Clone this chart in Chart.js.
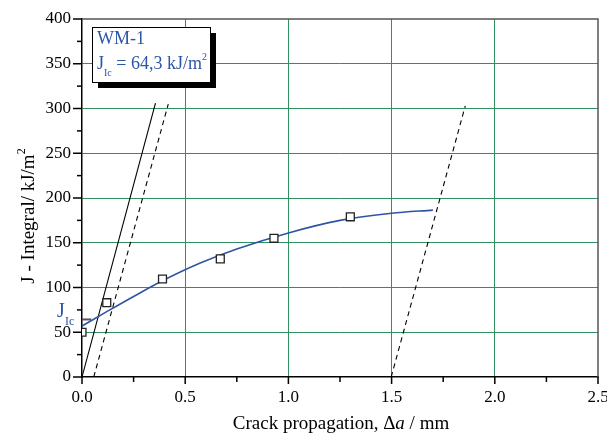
<!DOCTYPE html>
<html>
<head>
<meta charset="utf-8">
<script src="https://cdn.jsdelivr.net/npm/chart.js@4"></script>
<style>
  html, body { margin: 0; padding: 0; background: #fff; }
  #wrap { width: 607px; height: 437px; }
</style>
</head>
<body>
<div id="wrap"><canvas id="jChart" width="607" height="437"></canvas></div>
<script>
// Measured points (crack growth, J)
const crackX = [0.0, 0.12, 0.39, 0.67, 0.93, 1.30];
const jValues = [50, 83, 109.5, 132, 155, 179];

// Fitted R-curve
const fitX = [0, 0.12, 0.25, 0.39, 0.57, 0.75, 1.0, 1.25, 1.5, 1.7];
const fitY = [57, 73, 90, 107.5, 127, 143, 161, 175, 183, 186.5];

// Blunting line and offset lines
const bluntX = [0.0, 0.356];
const bluntY = [0, 306];
const offsetAX = [0.057, 0.418];
const offsetAY = [0, 305];
const offsetBX = [1.498, 1.857];
const offsetBY = [0, 303];

// J_Ic marker on the axis
const jicX = [0, 0.045];
const jicY = [64.3, 64.3];

const xTicks = [0, 0.5, 1.0, 1.5, 2.0, 2.5];
const yTicks = [0, 50, 100, 150, 200, 250, 300, 350, 400];

const SERIF = "'Liberation Serif', 'Times New Roman', serif";
const BLUE = '#2d55a6';
const GRID = '#2f8f60';

function pts(xs, ys) {
  return xs.map((x, i) => ({ x: x, y: ys[i] }));
}

// draws ticks, frame, titles and the text box
const decorations = {
  id: 'decorations',
  afterDraw(chart) {
    const ctx = chart.ctx;
    const area = chart.chartArea;
    const xs = chart.scales.x;
    const ys = chart.scales.y;
    ctx.save();

    // top and right frame
    ctx.strokeStyle = '#555';
    ctx.lineWidth = 1.5;
    ctx.beginPath();
    ctx.moveTo(area.left, area.top);
    ctx.lineTo(area.right, area.top);
    ctx.lineTo(area.right, area.bottom);
    ctx.stroke();

    // tick marks, outward
    ctx.strokeStyle = '#000';
    ctx.lineWidth = 1.5;
    for (let v = 0; v <= 400; v += 25) {
      const py = ys.getPixelForValue(v);
      const len = v % 50 === 0 ? 9 : 5;
      ctx.beginPath();
      ctx.moveTo(area.left - len, py);
      ctx.lineTo(area.left, py);
      ctx.stroke();
    }
    for (let v = 0; v <= 2.5001; v += 0.25) {
      const px = xs.getPixelForValue(v);
      const major = Math.abs(v * 2 - Math.round(v * 2)) < 1e-6;
      const len = major ? 7 : 5;
      ctx.beginPath();
      ctx.moveTo(px, area.bottom);
      ctx.lineTo(px, area.bottom + len);
      ctx.stroke();
    }

    // x title with italic a
    ctx.fillStyle = '#000';
    ctx.textBaseline = 'alphabetic';
    const p1 = 'Crack propagation, \u0394';
    const p2 = 'a';
    const p3 = ' / mm';
    ctx.font = '19px ' + SERIF;
    const w1 = ctx.measureText(p1).width;
    const w3 = ctx.measureText(p3).width;
    ctx.font = 'italic 19px ' + SERIF;
    const w2 = ctx.measureText(p2).width;
    let tx = 341 - (w1 + w2 + w3) / 2;
    const ty = 429;
    ctx.font = '19px ' + SERIF;
    ctx.textAlign = 'left';
    ctx.fillText(p1, tx, ty);
    ctx.font = 'italic 19px ' + SERIF;
    ctx.fillText(p2, tx + w1, ty);
    ctx.font = '19px ' + SERIF;
    ctx.fillText(p3, tx + w1 + w2, ty);

    // y title, rotated, with superscript 2
    ctx.save();
    ctx.translate(34, 216);
    ctx.rotate(-Math.PI / 2);
    ctx.font = '19px ' + SERIF;
    const yt = 'J - Integral/ kJ/m';
    const wy = ctx.measureText(yt).width;
    ctx.font = '12px ' + SERIF;
    const ws = ctx.measureText('2').width;
    const y0 = -(wy + ws) / 2;
    ctx.font = '19px ' + SERIF;
    ctx.fillText(yt, y0, 0);
    ctx.font = '12px ' + SERIF;
    ctx.fillText('2', y0 + wy, -9);
    ctx.restore();

    // J_Ic label next to the axis
    ctx.fillStyle = BLUE;
    ctx.font = '20px ' + SERIF;
    ctx.fillText('J', 57, 317);
    ctx.font = '12px ' + SERIF;
    ctx.fillText('Ic', 65, 325);

    // text box with shadow
    const bx = 92, by = 27, bw = 118, bh = 55;
    ctx.fillStyle = '#000';
    ctx.fillRect(bx + 6, by + 6, bw, bh);
    ctx.fillStyle = '#fff';
    ctx.fillRect(bx, by, bw, bh);
    ctx.strokeStyle = '#000';
    ctx.lineWidth = 1;
    ctx.strokeRect(bx + 0.5, by + 0.5, bw, bh);

    ctx.fillStyle = BLUE;
    ctx.font = '18px ' + SERIF;
    ctx.fillText('WM-1', 97, 44);
    ctx.fillText('J', 97, 69);
    let cx = 97 + ctx.measureText('J').width;
    ctx.font = '10px ' + SERIF;
    ctx.fillText('Ic', cx, 76);
    cx += ctx.measureText('Ic').width;
    ctx.font = '18px ' + SERIF;
    const mid = ' = 64,3 kJ/m';
    ctx.fillText(mid, cx, 69);
    cx += ctx.measureText(mid).width;
    ctx.font = '10px ' + SERIF;
    ctx.fillText('2', cx, 60);

    ctx.restore();
  }
};

const ctx = document.getElementById('jChart').getContext('2d');

new Chart(ctx, {
  type: 'scatter',
  data: {
    datasets: [
      {
        label: 'measured',
        data: pts(crackX, jValues),
        pointStyle: 'rect',
        pointRadius: 5.6,
        pointBackgroundColor: '#fff',
        pointBorderColor: '#222',
        pointBorderWidth: 1.3,
        showLine: false,
        order: 0
      },
      {
        label: 'fit',
        data: pts(fitX, fitY),
        showLine: true,
        borderColor: BLUE,
        borderWidth: 1.6,
        pointRadius: 0,
        cubicInterpolationMode: 'monotone',
        order: 1
      },
      {
        label: 'blunting',
        data: pts(bluntX, bluntY),
        showLine: true,
        borderColor: '#000',
        borderWidth: 1.1,
        pointRadius: 0,
        order: 2
      },
      {
        label: 'offset 0.05',
        data: pts(offsetAX, offsetAY),
        showLine: true,
        borderColor: '#000',
        borderWidth: 1.1,
        borderDash: [5, 4],
        pointRadius: 0,
        order: 2
      },
      {
        label: 'offset 1.5',
        data: pts(offsetBX, offsetBY),
        showLine: true,
        borderColor: '#000',
        borderWidth: 1.1,
        borderDash: [5, 4],
        pointRadius: 0,
        order: 2
      },
      {
        label: 'JIc',
        data: pts(jicX, jicY),
        showLine: true,
        borderColor: '#555',
        borderWidth: 2,
        pointRadius: 0,
        order: 3
      }
    ]
  },
  options: {
    responsive: false,
    animation: false,
    layout: { padding: { top: 19, right: 9, left: 0, bottom: 0 } },
    plugins: {
      legend: { display: false },
      tooltip: { enabled: false }
    },
    scales: {
      x: {
        type: 'linear',
        min: 0,
        max: 2.5,
        afterFit(scale) {
          scale.height = 60;
          scale.paddingLeft = 0;
          scale.paddingRight = 0;
        },
        afterBuildTicks(scale) { scale.ticks = xTicks.map(v => ({ value: v })); },
        ticks: {
          padding: 10,
          color: '#000',
          font: { family: SERIF, size: 17 },
          callback: v => v.toFixed(1)
        },
        grid: {
          drawTicks: false,
          color: c => (c.tick && (c.tick.value === 0 || c.tick.value === 2.5)) ? 'rgba(0,0,0,0)' : GRID,
          lineWidth: 1
        },
        border: { color: '#000', width: 1.5 }
      },
      y: {
        type: 'linear',
        min: 0,
        max: 400,
        afterFit(scale) {
          scale.width = 82;
          scale.paddingTop = 0;
          scale.paddingBottom = 0;
        },
        afterBuildTicks(scale) { scale.ticks = yTicks.map(v => ({ value: v })); },
        ticks: {
          padding: 11,
          color: '#000',
          font: { family: SERIF, size: 17 },
          callback: v => String(v)
        },
        grid: {
          drawTicks: false,
          color: c => (c.tick && (c.tick.value === 0 || c.tick.value === 400)) ? 'rgba(0,0,0,0)' : GRID,
          lineWidth: 1
        },
        border: { color: '#000', width: 1.5 }
      }
    }
  },
  plugins: [decorations]
});
</script>
</body>
</html>
